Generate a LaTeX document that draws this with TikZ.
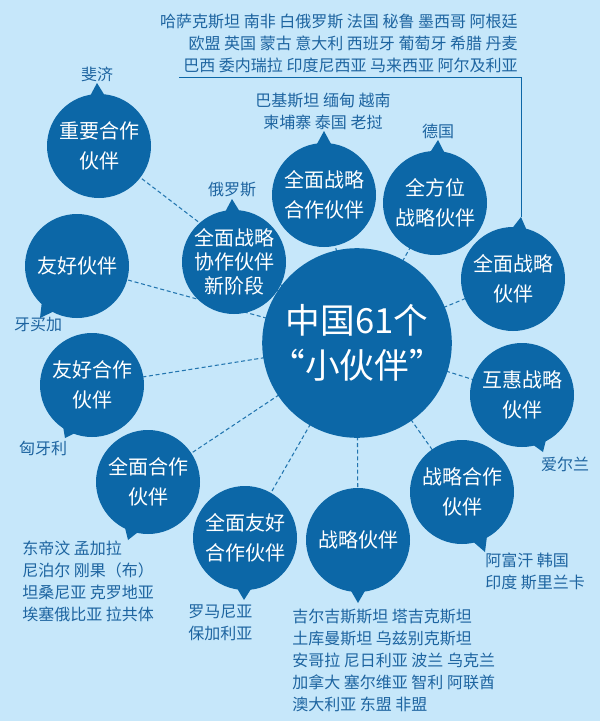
\documentclass[tikz,border=0pt]{standalone}
\usepackage{fontspec}
\setmainfont{Noto Sans CJK SC}
\usepackage{xcolor}
\usepackage{tikz}
\usetikzlibrary{calc,backgrounds}
\definecolor{sky}{HTML}{C6E7FA}
\definecolor{bub}{HTML}{0C67A7}
\definecolor{ink}{HTML}{1D64A0}
\pgfdeclarelayer{paper}
\pgfsetlayers{paper,background,main}
% speech tip of a bubble: node name, tip point
\newcommand\tip[2]{\coordinate (#1-t) at (#2);
  \fill[bub] ($(#1.center)!36pt!-11:(#1-t)$) -- (#1-t) -- ($(#1.center)!36pt!11:(#1-t)$) -- cycle;}

\begin{document}
\begin{tikzpicture}[x=0.75pt, y=-0.75pt,
  bubble/.style={circle, fill=bub, text=white, align=center, inner sep=0pt, minimum size=78pt, font=\fontsize{15}{22.5}\selectfont},
  tag/.style={text=ink, inner sep=0pt, font=\fontsize{12}{16.5}\selectfont},
  link/.style={draw=bub!90, line width=0.8pt, dash pattern=on 3pt off 2pt},
  lead/.style={draw=bub, semithick}]
\begin{pgfonlayer}{paper}
\fill[sky] (0,0) rectangle (600,721);
\end{pgfonlayer}

\node[bubble, minimum size=129pt, font=\fontsize{26}{34}\selectfont] (core) at (357,343) {中国61个\\“小伙伴”};
\node[bubble] (imp) at (99,146) {重要合作\\伙伴};
\node[bubble, font=\fontsize{15}{18}\selectfont] (rus) at (234,262) {全面战略\\协作伙伴\\新阶段};
\node[bubble] (frd) at (77,266) {友好伙伴};
\node[bubble] (cspc) at (324,195) {全面战略\\合作伙伴};
\node[bubble] (omni) at (435,203) {全方位\\战略伙伴};
\node[bubble] (csp) at (513,279) {全面战略\\伙伴};
\node[bubble] (mut) at (522,395) {互惠战略\\伙伴};
\node[bubble] (spc) at (462,492) {战略合作\\伙伴};
\node[bubble] (sp) at (358,540) {战略伙伴};
\node[bubble] (cfc) at (245,538) {全面友好\\合作伙伴};
\node[bubble] (cc) at (148,482) {全面合作\\伙伴};
\node[bubble] (fc) at (92,385) {友好合作\\伙伴};

\tip{imp}{97,83}
\tip{rus}{232,199}
\tip{frd}{40,318}
\tip{cspc}{324,131}
\tip{omni}{438,140}
\tip{csp}{521,217}
\tip{mut}{543,452}
\tip{spc}{485,552}
\tip{sp}{358,603}
\tip{cfc}{244,600}
\tip{cc}{128,540}
\tip{fc}{65,438}

\begin{scope}[on background layer]
\foreach \b in {imp,rus,frd,cspc,omni,csp,mut,spc,sp,cfc,cc,fc}
  \draw[link] (core.center) -- (\b.center);
\end{scope}

\node[tag, anchor=east, align=right] (world) at (518,43) {哈萨克斯坦 南非 白俄罗斯 法国 秘鲁 墨西哥 阿根廷\\欧盟 英国 蒙古 意大利 西班牙 葡萄牙 希腊 丹麦\\巴西 委内瑞拉 印度尼西亚 马来西亚 阿尔及利亚};
\coordinate (leadL) at (179,77);
\draw[lead] (leadL) -| (csp-t);

\node[tag] (fiji) at (97,74) {斐济};
\node[tag] (russia) at (232,190) {俄罗斯};
\node[tag] (jamaica) at (38,325) {牙买加};
\node[tag, align=center] (asia) at (323,111) {巴基斯坦 缅甸 越南\\柬埔寨 泰国 老挝};
\node[tag] (germany) at (438,131) {德国};
\node[tag] (ireland) at (565,464) {爱尔兰};
\node[tag, anchor=west, align=left] (south) at (485,571) {阿富汗 韩国\\印度 斯里兰卡};
\node[tag, anchor=west, align=left] (many) at (292,660) {吉尔吉斯斯坦 塔吉克斯坦\\土库曼斯坦 乌兹别克斯坦\\安哥拉 尼日利亚 波兰 乌克兰\\加拿大 塞尔维亚 智利 阿联酋\\澳大利亚 东盟 非盟};
\node[tag, anchor=west, align=left] (balkan) at (188,623) {罗马尼亚\\保加利亚};
\node[tag, anchor=west, align=left] (mixed) at (22,581) {东帝汶 孟加拉\\尼泊尔 刚果（布）\\坦桑尼亚 克罗地亚\\埃塞俄比亚 拉共体};
\node[tag] (hungary) at (43,448) {匈牙利};
\end{tikzpicture}
\end{document}
